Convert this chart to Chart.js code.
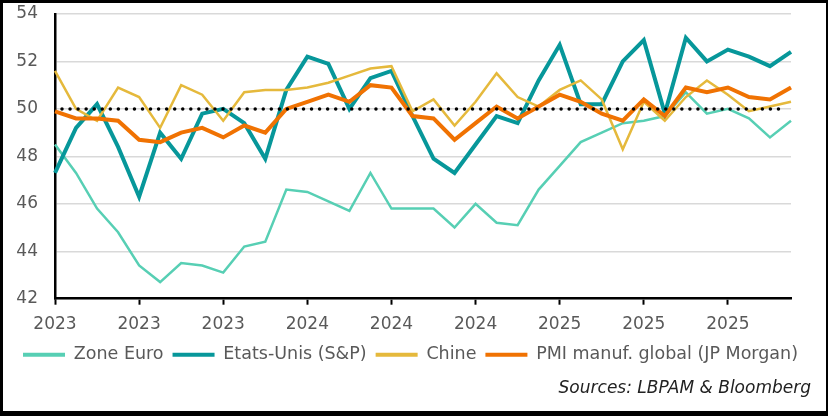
<!DOCTYPE html>
<html>
<head>
<meta charset="utf-8">
<script src="https://cdn.jsdelivr.net/npm/chart.js@4.4.1/dist/chart.umd.min.js"></script>
<style>
html, body { margin: 0; padding: 0; background: #fff; }
#wrap { width: 828px; height: 416px; position: relative; }
canvas { display: block; }
</style>
</head>
<body>
<div id="wrap"><canvas id="canvas" width="828" height="416"></canvas></div>
<script>
// mois (fév. 2023 -> janv. 2026), un point par mois
var MOIS = ['2023-02','2023-03','2023-04','2023-05','2023-06','2023-07','2023-08','2023-09','2023-10','2023-11','2023-12',
	'2024-01','2024-02','2024-03','2024-04','2024-05','2024-06','2024-07','2024-08','2024-09','2024-10','2024-11','2024-12',
	'2025-01','2025-02','2025-03','2025-04','2025-05','2025-06','2025-07','2025-08','2025-09','2025-10','2025-11','2025-12',
	'2026-01'];
var ZONE_EURO = [48.5,47.3,45.8,44.8,43.4,42.7,43.5,43.4,43.1,44.2,44.4,46.6,46.5,46.1,45.7,47.3,45.8,45.8,
	45.8,45.0,46.0,45.2,45.1,46.6,47.6,48.6,49.0,49.4,49.5,49.7,50.7,49.8,50.0,49.6,48.8,49.5];
var ETATS_UNIS = [47.3,49.2,50.2,48.4,46.3,49.0,47.9,49.8,50.0,49.4,47.9,50.8,52.2,51.9,50.0,51.3,51.6,49.7,
	47.9,47.3,48.5,49.7,49.4,51.2,52.7,50.2,50.2,52.0,52.9,49.8,53.0,52.0,52.5,52.2,51.8,52.4];
var CHINE = [51.6,50.0,49.5,50.9,50.5,49.2,51.0,50.6,49.5,50.7,50.8,50.8,50.9,51.1,51.4,51.7,51.8,49.9,
	50.4,49.3,50.3,51.5,50.5,50.1,50.8,51.2,50.4,48.3,50.3,49.5,50.5,51.2,50.6,49.9,50.1,50.3];
var PMI_GLOBAL = [49.9,49.6,49.6,49.5,48.7,48.6,49.0,49.2,48.8,49.3,49.0,50.0,50.3,50.6,50.3,51.0,50.9,49.7,
	49.6,48.7,49.4,50.1,49.6,50.1,50.6,50.3,49.8,49.5,50.4,49.7,50.9,50.7,50.9,50.5,50.4,50.9];
var Y_TICKS = [42,44,46,48,50,52,54];
var SEUIL = 50;
var SOURCE = 'Sources: LBPAM & Bloomberg';

var GRIS = '#595959';
var POLICE = 'DejaVu Sans';

// ligne pointillée à 50 (au-dessus des courbes)
var ligneSeuil = {
	id: 'ligneSeuil',
	afterDatasetsDraw: function(chart){
		var ctx = chart.ctx;
		var y = chart.scales.y.getPixelForValue(SEUIL);
		ctx.save();
		ctx.beginPath();
		ctx.setLineDash([0, 8.05]);
		ctx.lineCap = 'round';
		ctx.lineWidth = 3.5;
		ctx.strokeStyle = '#000';
		ctx.moveTo(chart.chartArea.left + 7, y);
		ctx.lineTo(chart.chartArea.right - 5, y);
		ctx.stroke();
		ctx.restore();
	}
};

// fond blanc + cadre noir autour de l'image
var cadre = {
	id: 'cadre',
	beforeDraw: function(chart){
		var ctx = chart.ctx;
		ctx.save();
		ctx.fillStyle = '#fff';
		ctx.fillRect(0, 0, chart.width, chart.height);
		ctx.restore();
	},
	afterDraw: function(chart){
		var ctx = chart.ctx, w = chart.width, h = chart.height;
		ctx.save();
		ctx.fillStyle = '#000';
		ctx.fillRect(0, 0, w, 3);
		ctx.fillRect(0, 0, 3, h);
		ctx.fillRect(w - 2, 0, 2, h);
		ctx.fillRect(0, h - 5, w, 5);
		ctx.restore();
	}
};

var ctx = document.getElementById('canvas').getContext('2d');
window.myLine = new Chart(ctx, {
	type: 'line',
	data: {
		labels: MOIS,
		datasets: [{
			label: 'Zone Euro',
			data: ZONE_EURO,
			borderColor: '#57cfb4',
			backgroundColor: '#57cfb4',
			borderWidth: 2.5,
			order: 4
		}, {
			label: 'Etats-Unis (S&P)',
			data: ETATS_UNIS,
			borderColor: '#07979a',
			backgroundColor: '#07979a',
			borderWidth: 4,
			order: 3
		}, {
			label: 'Chine',
			data: CHINE,
			borderColor: '#e5b93c',
			backgroundColor: '#e5b93c',
			borderWidth: 2.5,
			order: 2
		}, {
			label: 'PMI manuf. global (JP Morgan)',
			data: PMI_GLOBAL,
			borderColor: '#f07202',
			backgroundColor: '#f07202',
			borderWidth: 4,
			order: 1
		}]
	},
	options: {
		responsive: false,
		animation: false,
		devicePixelRatio: 1,
		layout: { padding: { left: 10, right: 17, top: 14, bottom: 13 } },
		elements: {
			point: { radius: 0 },
			line: { tension: 0, borderJoinStyle: 'miter', borderCapStyle: 'butt' }
		},
		scales: {
			x: {
				type: 'category',
				offset: false,
				afterFit: function(scale){ scale.height -= 8; },
				grid: {
					drawOnChartArea: false,
					drawTicks: true,
					tickLength: 6,
					tickWidth: 2,
					tickColor: function(c){ return c.index % 4 === 0 ? '#000' : 'rgba(0,0,0,0)'; }
				},
				border: { color: '#000', width: 2.5 },
				ticks: {
					autoSkip: false,
					maxRotation: 0,
					padding: 10,
					color: GRIS,
					font: { family: POLICE, size: 17 },
					callback: function(v, i){
						return i % 4 === 0 ? this.getLabelForValue(v).slice(0, 4) : '';
					}
				}
			},
			y: {
				min: 42,
				max: 54,
				afterBuildTicks: function(scale){
					scale.ticks = Y_TICKS.map(function(v){ return { value: v }; });
				},
				afterFit: function(scale){
					scale.width = 45;
					scale.paddingTop = 0;
					scale.paddingBottom = 0;
				},
				grid: { color: '#d9d9d9', lineWidth: 1.5, drawTicks: false },
				border: { color: '#000', width: 2.5 },
				ticks: {
					padding: 17,
					color: GRIS,
					font: { family: POLICE, size: 17 }
				}
			},
			y2: {
				position: 'right',
				afterFit: function(scale){ scale.width = 20; },
				grid: { display: false },
				border: { display: false },
				ticks: { display: false }
			}
		},
		plugins: {
			legend: {
				position: 'bottom',
				labels: {
					boxWidth: 42,
					boxHeight: 4,
					padding: 9,
					color: GRIS,
					font: { family: POLICE, size: 17.5 },
					sort: function(a, b){ return a.datasetIndex - b.datasetIndex; },
					generateLabels: function(chart){
						var items = Chart.defaults.plugins.legend.labels.generateLabels(chart);
						items.forEach(function(it){
							it.lineWidth = 0;
							it.fillStyle = it.strokeStyle;
						});
						return items;
					}
				}
			},
			title: {
				display: true,
				position: 'bottom',
				align: 'end',
				text: SOURCE,
				color: '#222',
				font: { family: POLICE, size: 17, style: 'italic', weight: 'normal' },
				padding: { top: 5, bottom: 4 }
			},
			tooltip: { enabled: false }
		}
	},
	plugins: [ligneSeuil, cadre]
});
</script>
</body>
</html>
